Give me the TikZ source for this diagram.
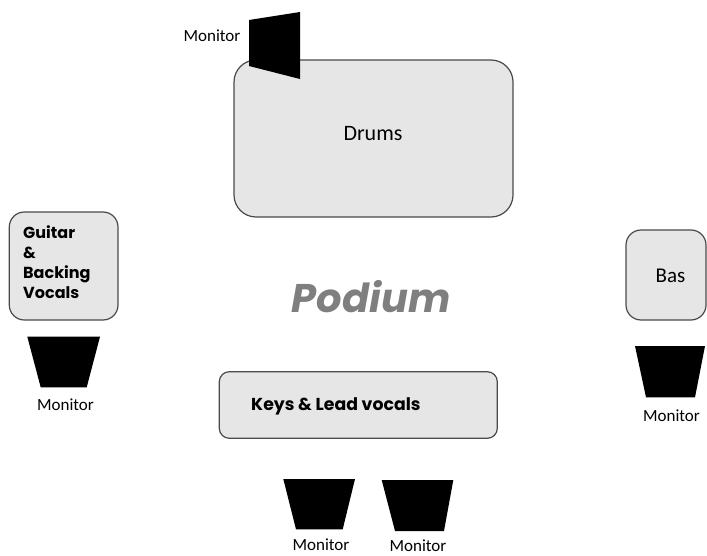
\documentclass[tikz,border=0pt]{standalone}
\usepackage{fontspec}
\setmainfont{Carlito}
\newfontfamily\gothic{Poppins}
\definecolor{boxfill}{HTML}{E6E6E6}
\definecolor{boxline}{HTML}{4A4A4A}
\definecolor{podiumgray}{HTML}{7F7F7F}
\begin{document}
\begin{tikzpicture}[x=1pt,y=-1pt,
  area/.style={draw=boxline, fill=boxfill, line width=1.2pt, rectangle, inner sep=0pt},
  speaker/.style={fill=black},
  monlabel/.style={font=\fontsize{17}{19}\selectfont, inner sep=0pt, anchor=base},
  bigLabel/.style={font=\fontsize{22}{24}\selectfont, inner sep=0pt, anchor=base},
  bandtext/.style={font=\gothic\bfseries\fontsize{16}{20}\selectfont, inner sep=0pt}]
\useasboundingbox (0,0) rectangle (707,556);

% areas
\draw[area, rounded corners=22pt] (234,60) rectangle (513,217);
\node[bigLabel] (drums) at (373,141) {Drums};

\draw[area, rounded corners=15pt] (9.3,212) rectangle (118,320);
\node[bandtext, align=left, anchor=north west] (guitar) at (23,225) {Guitar\\\&\\Backing\\Vocals};

\draw[area, rounded corners=15pt] (626,230) rectangle (706,320);
\node[bigLabel, font=\fontsize{21}{23}\selectfont] (bas) at (670.5,282) {Bas};

\draw[area, rounded corners=10pt] (219.3,371.7) rectangle (497.3,438.3);
\node[bandtext, font=\gothic\bfseries\fontsize{17.3}{20}\selectfont, anchor=base west] (keys) at (251,410) {Keys \& Lead vocals};

\node[font=\gothic\bfseries\itshape\fontsize{40}{44}\selectfont, text=podiumgray, inner sep=0pt, anchor=base] (podium) at (371,312) {Podium};

% monitors
\fill[speaker] (249,20) -- (300,12) -- (300,79) -- (249,66) -- cycle;
\node[monlabel] (montop) at (212,42) {Monitor};

\fill[speaker] (27.3,336.7) -- (100,336.7) -- (86.7,387.3) -- (40.7,387.3) -- cycle;
\node[monlabel] (monguitar) at (65.5,410) {Monitor};

\fill[speaker] (635,346) -- (705,346) -- (695,397.3) -- (646,397.3) -- cycle;
\node[monlabel] (monbas) at (671.5,421) {Monitor};

\fill[speaker] (283.3,479) -- (355,479) -- (342.7,529.3) -- (296,529.3) -- cycle;
\node[monlabel] (monkeysA) at (321,550) {Monitor};

\fill[speaker] (381.7,480) -- (453.3,480) -- (444,531) -- (395,531) -- cycle;
\node[monlabel] (monkeysB) at (418,551) {Monitor};
\end{tikzpicture}
\end{document}
